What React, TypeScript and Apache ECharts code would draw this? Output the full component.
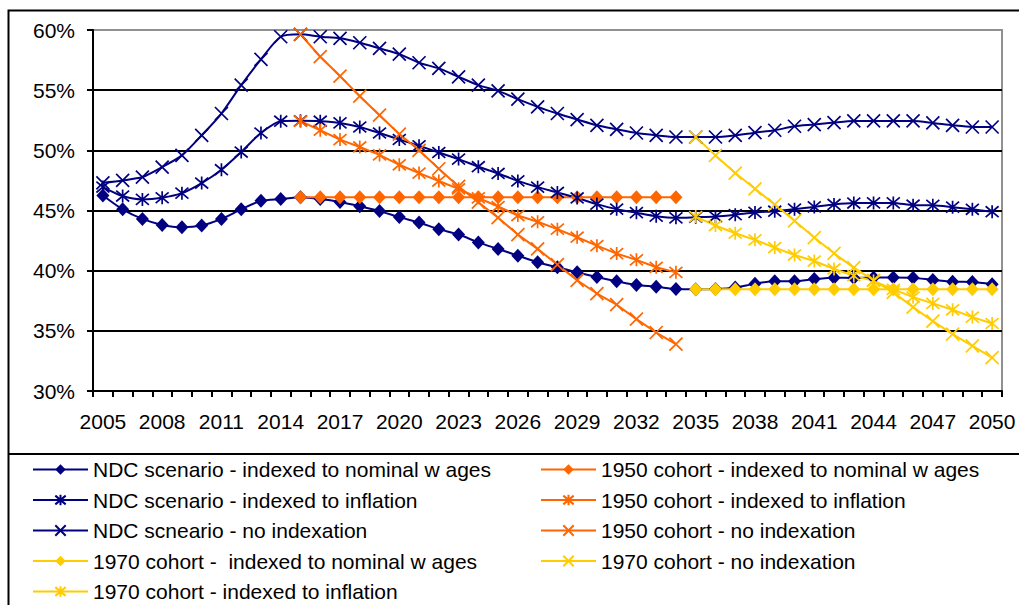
import React, { useEffect, useRef } from "react";
import * as echarts from "echarts";

const years = [
  "2005", "2006", "2007", "2008", "2009", "2010", "2011", "2012", "2013", "2014",
  "2015", "2016", "2017", "2018", "2019", "2020", "2021", "2022", "2023", "2024",
  "2025", "2026", "2027", "2028", "2029", "2030", "2031", "2032", "2033", "2034",
  "2035", "2036", "2037", "2038", "2039", "2040", "2041", "2042", "2043", "2044",
  "2045", "2046", "2047", "2048", "2049", "2050",
];

const yTicks = [30, 35, 40, 45, 50, 55, 60];

// NDC scenario, 2005-2050
const ndcNominal = [
  46.25, 45.1, 44.3, 43.8, 43.6, 43.75, 44.3, 45.1, 45.8, 45.95,
  46.1, 45.95, 45.7, 45.35, 44.95, 44.45, 44.0, 43.45, 43.0, 42.35,
  41.8, 41.25, 40.7, 40.28, 39.86, 39.47, 39.12, 38.8, 38.67, 38.47,
  38.45, 38.47, 38.6, 38.92, 39.12, 39.12, 39.3, 39.42, 39.4, 39.44,
  39.44, 39.42, 39.22, 39.08, 39.06, 38.88,
];
const ndcInflation = [
  46.95, 46.2, 45.92, 46.06, 46.44, 47.28, 48.39, 49.86, 51.44, 52.42,
  52.45, 52.42, 52.28, 51.94, 51.44, 50.9, 50.38, 49.82, 49.27, 48.64,
  48.08, 47.46, 46.94, 46.5, 46.04, 45.53, 45.11, 44.82, 44.53, 44.39,
  44.44, 44.5, 44.65, 44.84, 44.94, 45.11, 45.3, 45.5, 45.62, 45.63,
  45.63, 45.44, 45.43, 45.28, 45.1, 44.9,
];
const ndcNoIndex = [
  47.3, 47.5, 47.78, 48.61, 49.58, 51.25, 53.06, 55.42, 57.56, 59.44,
  59.64, 59.44, 59.31, 58.94, 58.47, 58.0, 57.28, 56.81, 56.11, 55.42,
  54.94, 54.25, 53.61, 53.06, 52.56, 52.08, 51.75, 51.44, 51.25, 51.11,
  51.11, 51.11, 51.25, 51.47, 51.67, 52.0, 52.14, 52.31, 52.44, 52.44,
  52.44, 52.44, 52.28, 52.08, 51.94, 51.94,
];

// 1950 cohort, 2015-2034
const c1950Start = "2015";
const c1950Nominal = [
  46.11, 46.11, 46.11, 46.11, 46.11, 46.11, 46.11, 46.11, 46.11, 46.11,
  46.11, 46.11, 46.11, 46.11, 46.11, 46.11, 46.11, 46.11, 46.11, 46.11,
];
const c1950Inflation = [
  52.42, 51.67, 50.89, 50.28, 49.62, 48.8, 48.11, 47.45, 46.8, 46.05,
  45.33, 44.58, 44.06, 43.45, 42.78, 42.08, 41.42, 40.9, 40.28, 39.86,
];
const c1950NoIndex = [
  59.64, 57.78, 56.17, 54.5, 52.92, 51.35, 50.0, 48.47, 47.0, 45.69,
  44.4, 43.0, 41.81, 40.5, 39.2, 38.1, 37.17, 35.97, 34.86, 33.89,
];

// 1970 cohort, 2035-2050
const c1970Start = "2035";
const c1970Nominal = [
  38.45, 38.45, 38.45, 38.45, 38.45, 38.45, 38.45, 38.45,
  38.45, 38.45, 38.45, 38.45, 38.45, 38.45, 38.45, 38.45,
];
const c1970Inflation = [
  44.5, 43.75, 43.11, 42.56, 41.92, 41.3, 40.8, 40.14,
  39.58, 39.15, 38.45, 37.8, 37.28, 36.75, 36.14, 35.61,
];
const c1970NoIndex = [
  51.11, 49.58, 48.11, 46.8, 45.5, 44.14, 42.75, 41.44,
  40.25, 39.2, 38.2, 36.97, 35.8, 34.72, 33.75, 32.78,
];

const NAMES = {
  ndcNom: "NDC scenario - indexed to nominal w ages",
  ndcInf: "NDC scenario - indexed to inflation",
  ndcNo: "NDC scneario - no indexation",
  c70Nom: "1970 cohort -  indexed to nominal w ages",
  c70Inf: "1970 cohort - indexed to inflation",
  c50Nom: "1950 cohort - indexed to nominal w ages",
  c50Inf: "1950 cohort - indexed to inflation",
  c50No: "1950 cohort - no indexation",
  c70No: "1970 cohort - no indexation",
};

const NAVY = "#000080";
const ORANGE = "#FF6600";
const YELLOW = "#FFCC00";

const STAR = "path://M5,0L5,10M0.5,0.8L9.5,9.2M9.5,0.8L0.5,9.2";
const CROSS = "path://M0,0L10,10M10,0L0,10";

function align(values: number[], start: string): (number | null)[] {
  const offset = years.indexOf(start);
  const out: (number | null)[] = years.map(() => null);
  values.forEach((v, i) => {
    out[offset + i] = v;
  });
  return out;
}

function mkSeries(name: string, data: (number | null)[], color: string, symbol: string, smooth: boolean) {
  const isDiamond = symbol === "diamond";
  return {
    name,
    type: "line",
    data,
    smooth: smooth ? 0.25 : false,
    symbol,
    symbolSize: isDiamond ? [13, 14] : 13,
    showSymbol: true,
    showAllSymbol: true,
    connectNulls: false,
    lineStyle: { color, width: 2 },
    itemStyle: {
      color,
      borderColor: color,
      borderWidth: isDiamond ? 0 : 1.7,
    },
    emphasis: { disabled: true },
  };
}

const FONT = "'Liberation Sans', Arial, sans-serif";

export default function App() {
  const ref = useRef<HTMLDivElement>(null);

  useEffect(() => {
    if (!ref.current) return;
    const chart = echarts.init(ref.current, undefined, { renderer: "svg" });
    const legendText = { fontFamily: FONT, fontSize: 21, color: "#000", lineHeight: 21 };
    chart.setOption({
      animation: false,
      backgroundColor: "#fff",
      textStyle: { fontFamily: FONT },
      grid: {
        left: 93,
        top: 30,
        width: 909,
        height: 361,
        show: true,
        borderColor: "#909090",
        borderWidth: 2,
        backgroundColor: "transparent",
      },
      graphic: [
        {
          type: "rect",
          shape: { x: 8.5, y: 10.5, width: 1100, height: 700 },
          style: { fill: "none", stroke: "#000", lineWidth: 2 },
          silent: true,
        },
        {
          type: "line",
          shape: { x1: 8, y1: 454, x2: 1019, y2: 454 },
          style: { stroke: "#000", lineWidth: 2 },
          silent: true,
        },
      ],
      legend: [
        {
          orient: "vertical",
          left: 32,
          top: 459,
          padding: 0,
          itemWidth: 55,
          itemHeight: 13,
          itemGap: 9.5,
          textStyle: legendText,
          data: [NAMES.ndcNom, NAMES.ndcInf, NAMES.ndcNo, NAMES.c70Nom, NAMES.c70Inf],
          selectedMode: false,
        },
        {
          orient: "vertical",
          left: 540,
          top: 459,
          padding: 0,
          itemWidth: 55,
          itemHeight: 13,
          itemGap: 9.5,
          textStyle: legendText,
          data: [NAMES.c50Nom, NAMES.c50Inf, NAMES.c50No, NAMES.c70No],
          selectedMode: false,
        },
      ],
      xAxis: {
        type: "category",
        data: years,
        boundaryGap: true,
        axisLine: { show: true, lineStyle: { color: "#000", width: 2 } },
        axisTick: { show: true, interval: 0, length: 6, lineStyle: { color: "#000", width: 2 } },
        axisLabel: {
          interval: 2,
          margin: 20,
          fontFamily: FONT,
          fontSize: 21,
          color: "#000",
        },
        splitLine: { show: false },
      },
      yAxis: {
        type: "value",
        min: yTicks[0],
        max: yTicks[yTicks.length - 1],
        interval: 5,
        axisLine: { show: true, lineStyle: { color: "#000", width: 2 } },
        axisTick: { show: true, length: 6, lineStyle: { color: "#000", width: 2 } },
        axisLabel: {
          formatter: "{value}%",
          margin: 18,
          fontFamily: FONT,
          fontSize: 21,
          color: "#000",
        },
        splitLine: {
          show: true,
          lineStyle: {
            color: ["#000", "#000", "#000", "#000", "#000", "#000", "#909090"],
            width: 2,
          },
        },
      },
      series: [
        mkSeries(NAMES.ndcNom, ndcNominal, NAVY, "diamond", true),
        mkSeries(NAMES.c50Nom, align(c1950Nominal, c1950Start), ORANGE, "diamond", false),
        mkSeries(NAMES.ndcInf, ndcInflation, NAVY, STAR, true),
        mkSeries(NAMES.c50Inf, align(c1950Inflation, c1950Start), ORANGE, STAR, false),
        mkSeries(NAMES.ndcNo, ndcNoIndex, NAVY, CROSS, true),
        mkSeries(NAMES.c50No, align(c1950NoIndex, c1950Start), ORANGE, CROSS, false),
        mkSeries(NAMES.c70Nom, align(c1970Nominal, c1970Start), YELLOW, "diamond", false),
        mkSeries(NAMES.c70No, align(c1970NoIndex, c1970Start), YELLOW, CROSS, false),
        mkSeries(NAMES.c70Inf, align(c1970Inflation, c1970Start), YELLOW, STAR, false),
      ],
    });
    return () => chart.dispose();
  }, []);

  return (
    <div
      ref={ref}
      style={{ position: "fixed", left: 0, top: 0, width: 1019, height: 605, background: "#fff" }}
    />
  );
}
